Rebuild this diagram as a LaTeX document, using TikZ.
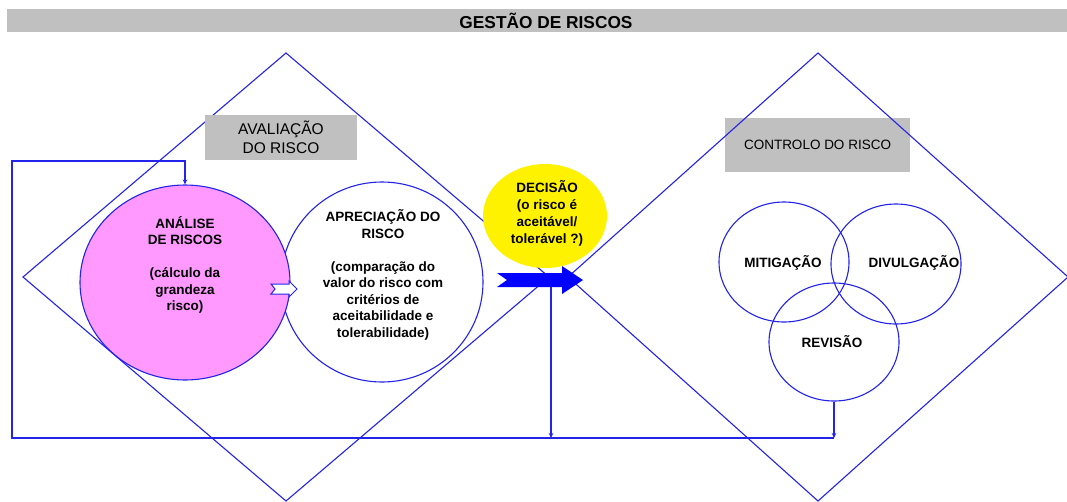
\documentclass[tikz,border=0pt]{standalone}
\usepackage{fontspec}
\setmainfont{Liberation Sans}
\usetikzlibrary{shapes.geometric,arrows.meta}

\definecolor{azul}{RGB}{35,35,235}
\definecolor{rosa}{RGB}{255,153,255}
\definecolor{cinza}{RGB}{192,192,192}
\tikzset{
  linha/.style={draw=azul, line width=1.1pt},
  bola/.style={ellipse, draw=azul, line width=1.1pt, inner sep=0pt},
  caixa/.style={fill=cinza, inner sep=0pt, align=center},
  texto/.style={align=center, font=\fontsize{13.5}{16.5}\selectfont\bfseries},
  ponta/.style={-{Stealth[length=5pt,width=4.5pt]}},
}

\begin{document}
\begin{tikzpicture}[x=1pt,y=-1pt]
    \fill[white] (0,0) rectangle (1067,501);
    \useasboundingbox (0,0) rectangle (1067,501);
    \fill[cinza] (7,9) rectangle (1067,32);
    \node[font=\fontsize{17.3}{20}\selectfont\bfseries] (titulo) at (546,21) {GESTÃO DE RISCOS};
    % avaliacao do risco
    \node[bola, minimum width=202pt, minimum height=200pt] (apreciacao) at (382,282) {};
    \node[bola, fill=rosa, minimum width=210pt, minimum height=195pt] (analise) at (185,282.5) {};
    \coordinate (A) at (286,53);
    \coordinate (B) at (23,277);
    \coordinate (C) at (286,501);
    \coordinate (D) at (549,277);
    \draw[linha] (A) -- (B) -- (C) -- (D) -- cycle;
    \node[caixa, minimum width=152pt, minimum height=45pt, font=\fontsize{15.5}{19}\selectfont] (avaliacao) at (281,137.5) {AVALIAÇÃO\\DO RISCO};
    \node[texto] (analise-t) at (185,265) {ANÁLISE\\DE RISCOS\\[16.5pt](cálculo da\\grandeza\\risco)};
    \node[texto] (apreciacao-t) at (383,275) {APRECIAÇÃO DO\\RISCO\\[16.5pt](comparação do\\valor do risco com\\critérios de\\aceitabilidade e\\tolerabilidade)};
    % decisao
    \node[bola, draw=none, fill=yellow, minimum width=124pt, minimum height=104pt] (decisao) at (545,216) {};
    \node[texto, font=\fontsize{13.5}{17}\selectfont\bfseries] (decisao-t) at (547,213) {DECISÃO\\(o risco é\\aceitável/\\tolerável ?)};
    % controlo do risco
    \node[caixa, minimum width=185pt, minimum height=54pt, font=\fontsize{13.5}{16.5}\selectfont] (controlo) at (817.5,145) {CONTROLO DO RISCO};
    \coordinate (E) at (818,53);
    \coordinate (F) at (568,277);
    \coordinate (G) at (818,501);
    \coordinate (H) at (1068,277);
    \draw[linha] (E) -- (F) -- (G) -- (H) -- cycle;
    \node[bola, minimum width=130pt, minimum height=120pt] (mitigacao) at (784,262) {};
    \node[bola, minimum width=130pt, minimum height=120pt] (divulgacao) at (896,264) {};
    \node[bola, minimum width=130pt, minimum height=118pt] (revisao) at (834,342) {};
    \node[texto] (mitigacao-t) at (783,263) {MITIGAÇÃO};
    \node[texto] (divulgacao-t) at (914,263) {DIVULGAÇÃO};
    \node[texto] (revisao-t) at (832,342) {REVISÃO};
    % setas
    \coordinate (S) at (540,280);
    \fill[blue, shift={(S)}] (-43,-7) -- (22,-7) -- (22,-14) -- (43,0) -- (22,14) -- (22,7) -- (-43,7) -- (-33,0) -- cycle;
    \coordinate (P) at (284,289);
    \filldraw[white, draw=azul, line width=1pt, shift={(P)}] (-13,-5) -- (5,-5) -- (5,-8) -- (13,0) -- (5,8) -- (5,5) -- (-13,5) -- (-9,0) -- cycle;
    \coordinate (S0) at (551,287);
    \coordinate (L) at (12,438);
    \coordinate (T) at (12,161);
    \draw[linha, ponta] (S0) -- (S0 |- L);
    \draw[linha, ponta] (revisao.south) -- (revisao.south |- L);
    \draw[linha, ponta] (revisao.south |- L) -- (L) -- (T) -- (analise.north |- T) -- (analise.north);
\end{tikzpicture}
\end{document}
